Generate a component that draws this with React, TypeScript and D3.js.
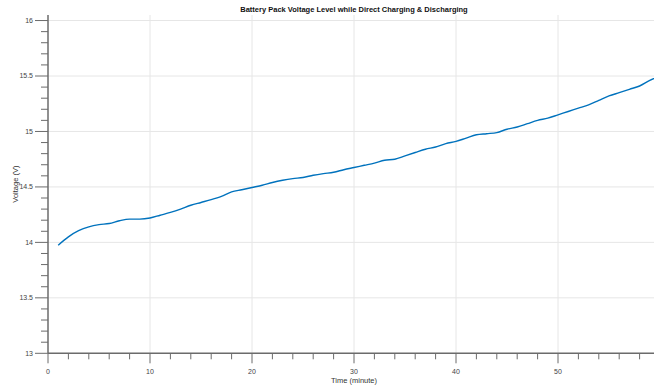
import React from "react";
import * as d3 from "d3";

const minutes = d3.range(1, 61);
const voltage = [
  13.975, 14.05, 14.105, 14.14, 14.16, 14.17, 14.195, 14.21, 14.21, 14.22,
  14.245, 14.27, 14.3, 14.335, 14.36, 14.385, 14.415, 14.455, 14.475, 14.495,
  14.515, 14.54, 14.56, 14.575, 14.585, 14.605, 14.62, 14.632, 14.655, 14.675,
  14.695, 14.715, 14.74, 14.75, 14.78, 14.81, 14.84, 14.86, 14.89, 14.91,
  14.94, 14.97, 14.98, 14.99, 15.02, 15.04, 15.07, 15.1, 15.12, 15.15,
  15.18, 15.21, 15.24, 15.28, 15.32, 15.35, 15.38, 15.41, 15.46, 15.5,
];
const xMajorTicks = [0, 10, 20, 30, 40, 50];
const xMinorTicks = d3.range(0, 61, 2);
const yMajorTicks = [13, 13.5, 14, 14.5, 15, 15.5, 16];
const yMinorTicks = d3.range(130, 161).map((d) => d / 10);
const title = "Battery Pack Voltage Level while Direct Charging & Discharging";
const xLabel = "Time (minute)";
const yLabel = "Voltage (V)";

export default function App() {
  const W = 654, H = 385;
  const left = 48, right = 660, top = 15, bottom = 353.3;
  const x = d3.scaleLinear().domain([0, 60]).range([left, right]);
  const y = d3.scaleLinear().domain([13, 16.05]).range([bottom, top]);
  const data = minutes.map((m, i) => [m, voltage[i]] as [number, number]);
  const line = d3.line<[number, number]>().x((d) => x(d[0])).y((d) => y(d[1])).curve(d3.curveMonotoneX);
  const font = "'Liberation Sans', Arial, Helvetica, sans-serif";
  const axisColor = "#6b6b6b";
  return (
    <svg width={W} height={H} style={{ position: "absolute", left: 0, top: 0, background: "#fff" }} fontFamily={font}>
      {xMajorTicks.filter((t) => t > 0).map((t) => (
        <line key={"gx" + t} x1={x(t)} x2={x(t)} y1={top} y2={bottom} stroke="#e6e6e6" strokeWidth={1} />
      ))}
      {yMajorTicks.filter((t) => t > 13).map((t) => (
        <line key={"gy" + t} x1={left} x2={right} y1={y(t)} y2={y(t)} stroke="#e6e6e6" strokeWidth={1} />
      ))}
      <path d={line(data) || ""} fill="none" stroke="#0072BD" strokeWidth={1.4} />
      <line x1={left} x2={left} y1={top} y2={bottom} stroke={axisColor} strokeWidth={1.5} />
      {yMinorTicks.map((t) => {
        const major = Math.abs(t * 2 - Math.round(t * 2)) < 1e-6;
        return (
          <line key={"ym" + t} x1={left - (major ? 13 : 7)} x2={left} y1={y(t)} y2={y(t)} stroke={axisColor} strokeWidth={1} />
        );
      })}
      {yMajorTicks.map((t) => (
        <text key={"yl" + t} x={33} y={y(t)} dy="0.35em" textAnchor="end" fontSize={7} fill="#444">
          {String(t)}
        </text>
      ))}
      <line x1={left} x2={right} y1={bottom} y2={bottom} stroke={axisColor} strokeWidth={1.5} />
      {xMinorTicks.map((t) => {
        const major = t % 10 === 0;
        return (
          <line key={"xm" + t} x1={x(t)} x2={x(t)} y1={bottom} y2={bottom + (major ? 10 : 6)} stroke={axisColor} strokeWidth={1} />
        );
      })}
      {xMajorTicks.map((t) => (
        <text key={"xl" + t} x={x(t)} y={371.5} dy="0.35em" textAnchor="middle" fontSize={7} fill="#444">
          {String(t)}
        </text>
      ))}
      <text x={(left + right) / 2} y={380} dy="0.35em" textAnchor="middle" fontSize={7.5} fill="#333">
        {xLabel}
      </text>
      <text transform={`translate(15,${(top + bottom) / 2}) rotate(-90)`} dy="0.35em" textAnchor="middle" fontSize={7.5} fill="#333">
        {yLabel}
      </text>
      <text x={(left + right) / 2} y={9.5} dy="0.35em" textAnchor="middle" fontSize={7.5} fontWeight="bold" fill="#111">
        {title}
      </text>
    </svg>
  );
}
